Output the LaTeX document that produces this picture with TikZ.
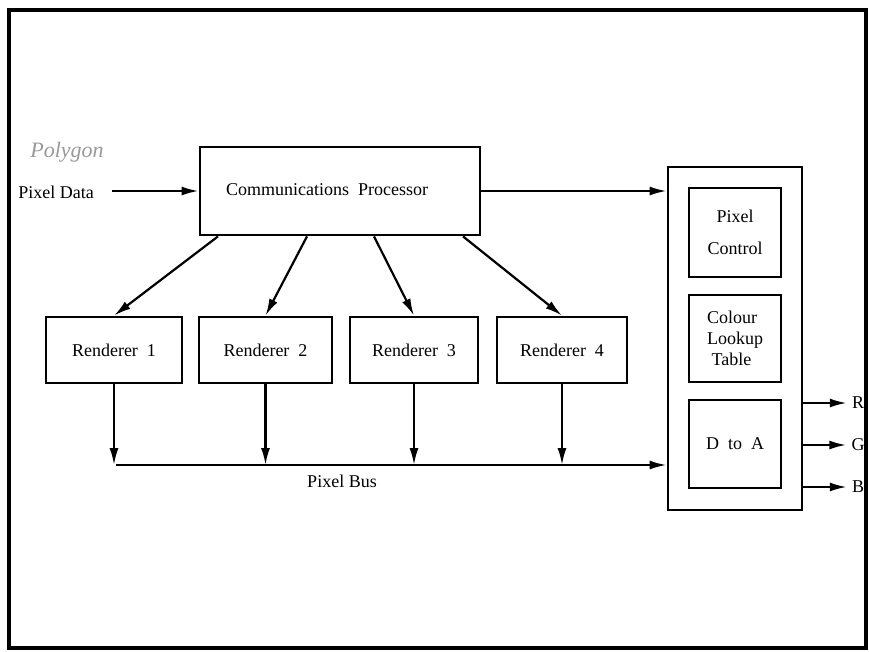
\documentclass[tikz,border=0pt]{standalone}
\usepackage{fontspec}
\setmainfont{Liberation Serif}
\usetikzlibrary{arrows.meta}
\begin{document}
\begin{tikzpicture}[x=1pt,y=-1pt,
  box/.style={draw, line width=2.8pt, inner sep=0pt, font=\fontsize{18}{21}\selectfont},
  arr/.style={line width=2.2pt, -{Latex[length=17pt,width=9pt]}},
  lbl/.style={inner sep=0pt, font=\fontsize{18}{21}\selectfont}]
\useasboundingbox (0,0) rectangle (869,651);
\draw[line width=3.2pt] (9,10) rectangle (866,648);
\node[lbl, text=black!40, font=\fontsize{22}{24}\selectfont\itshape] (poly) at (67,152){Polygon};
\node[lbl] (pdata) at (56,192){Pixel Data};
\coordinate (pdin) at (112,191);
\node[box, minimum width=280pt, minimum height=88pt] (comm) at (340,191){};
\node[lbl] (commtxt) at (327,190){Communications\ \ Processor};
\node[box, minimum width=136pt, minimum height=66pt] (r1) at (114,350){Renderer\ \ 1};
\node[box, minimum width=133pt, minimum height=66pt] (r2) at (265.5,350){Renderer\ \ 2};
\node[box, minimum width=128pt, minimum height=66pt] (r3) at (414,350){Renderer\ \ 3};
\node[box, minimum width=130pt, minimum height=66pt] (r4) at (562,350){Renderer\ \ 4};
\node[box, minimum width=134pt, minimum height=343pt] (big) at (735,338.5){};
\node[box, minimum width=92pt, minimum height=89pt, align=center] (pc) at (735,232.5){Pixel\\[11pt]Control};
\node[box, minimum width=92pt, minimum height=87pt, align=left] (clt) at (735,338.5){Colour\\Lookup\\\ Table};
\node[box, minimum width=92pt, minimum height=88pt] (da) at (735,444){D\ \ to\ \ A};
\node[lbl, inner sep=5pt] (lr) at (858,403){R};
\node[lbl, inner sep=5pt] (lg) at (858,445){G};
\node[lbl, inner sep=5pt] (lb) at (858,487){B};
\coordinate (bus) at (116,465);
\node[lbl] (busl) at (342,481){Pixel Bus};
\draw[arr] (pdin) -- (comm.west);
\draw[arr] (comm.east) -- (comm.east -| big.west);
\draw[arr] ([xshift=-122pt]comm.south) -- (r1.north);
\draw[arr] ([xshift=-33pt]comm.south) -- (r2.north);
\draw[arr] ([xshift=34pt]comm.south) -- (r3.north);
\draw[arr] ([xshift=123pt]comm.south) -- (r4.north);
\draw[arr] (r1.south) -- (r1.south |- bus);
\draw[arr] (r2.south) -- (r2.south |- bus);
\draw[arr] (r3.south) -- (r3.south |- bus);
\draw[arr] (r4.south) -- (r4.south |- bus);
\draw[arr] (bus) -- (bus -| big.west);
\draw[arr] (big.east |- lr) -- (lr.west);
\draw[arr] (big.east |- lg) -- (lg.west);
\draw[arr] (big.east |- lb) -- (lb.west);
\end{tikzpicture}
\end{document}
